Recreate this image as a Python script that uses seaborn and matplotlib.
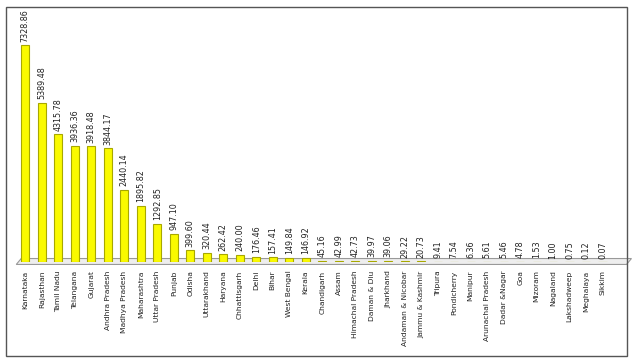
import matplotlib
matplotlib.use("Agg")
import matplotlib.pyplot as plt
import seaborn as sns
import pandas as pd
from matplotlib.patches import Rectangle, Polygon

states = ["Karnataka", "Rajasthan", "Tamil Nadu", "Telangana", "Gujarat", "Andhra Pradesh",
          "Madhya Pradesh", "Maharashtra", "Uttar Pradesh", "Punjab", "Odisha", "Uttarakhand",
          "Haryana", "Chhattisgarh", "Delhi", "Bihar", "West Bengal", "Kerala", "Chandigarh",
          "Assam", "Himachal Pradesh", "Daman & Diu", "Jharkhand", "Andaman & Nicobar",
          "Jammu & Kashmir", "Tripura", "Pondicherry", "Manipur", "Arunachal Pradesh",
          "Dadar &Nagar", "Goa", "Mizoram", "Nagaland", "Lakshadweep", "Meghalaya", "Sikkim"]
values = [7328.86, 5389.48, 4315.78, 3936.36, 3918.48, 3844.17, 2440.14, 1895.82, 1292.85,
          947.10, 399.60, 320.44, 262.42, 240.00, 176.46, 157.41, 149.84, 146.92, 45.16,
          42.99, 42.73, 39.97, 39.06, 29.22, 20.73, 9.41, 7.54, 6.36, 5.61, 5.46, 4.78,
          1.53, 1.00, 0.75, 0.12, 0.07]

df = pd.DataFrame({"state": states, "value": values})

sns.set_style("white")
fig = plt.figure(figsize=(6.33, 3.61), dpi=100)
ax = fig.add_axes([0.027, 0.274, 0.938, 0.656])

sns.barplot(data=df, x="state", y="value", ax=ax, color="#FAFA00", width=0.5,
            edgecolor="#A8A800", linewidth=0.8, saturation=1)

ax.set_ylim(0, 8000)
ax.set_xlim(-0.5, len(states) - 0.5)
for sp in ax.spines.values():
    sp.set_visible(False)
ax.set_yticks([])
ax.set_xlabel("")
ax.set_ylabel("")
ax.tick_params(axis="x", length=0, pad=6)
ax.set_xticks(range(len(states)))
ax.set_xticklabels(states, rotation=90, fontsize=5.4, color="#222222")

for i, v in enumerate(values):
    ax.text(i, v + 120, f"{v:.2f}", rotation=90, ha="center", va="bottom",
            fontsize=5.8, color="#222222")

# floor platform
floor = Polygon([(-0.55, -0.01), (36.45, -0.01), (36.75, 0.015), (-0.25, 0.015)],
                closed=True, transform=ax.get_xaxis_transform(), facecolor="#EEEEEE",
                edgecolor="#999999", linewidth=0.8, zorder=0, clip_on=False)
ax.add_patch(floor)

fig.patches.append(Rectangle((6 / 633, 1 - 356 / 361), 621 / 633, 349 / 361,
                             transform=fig.transFigure, fill=False,
                             edgecolor="#555555", linewidth=1.0))

fig.savefig("out.png", dpi=100)
